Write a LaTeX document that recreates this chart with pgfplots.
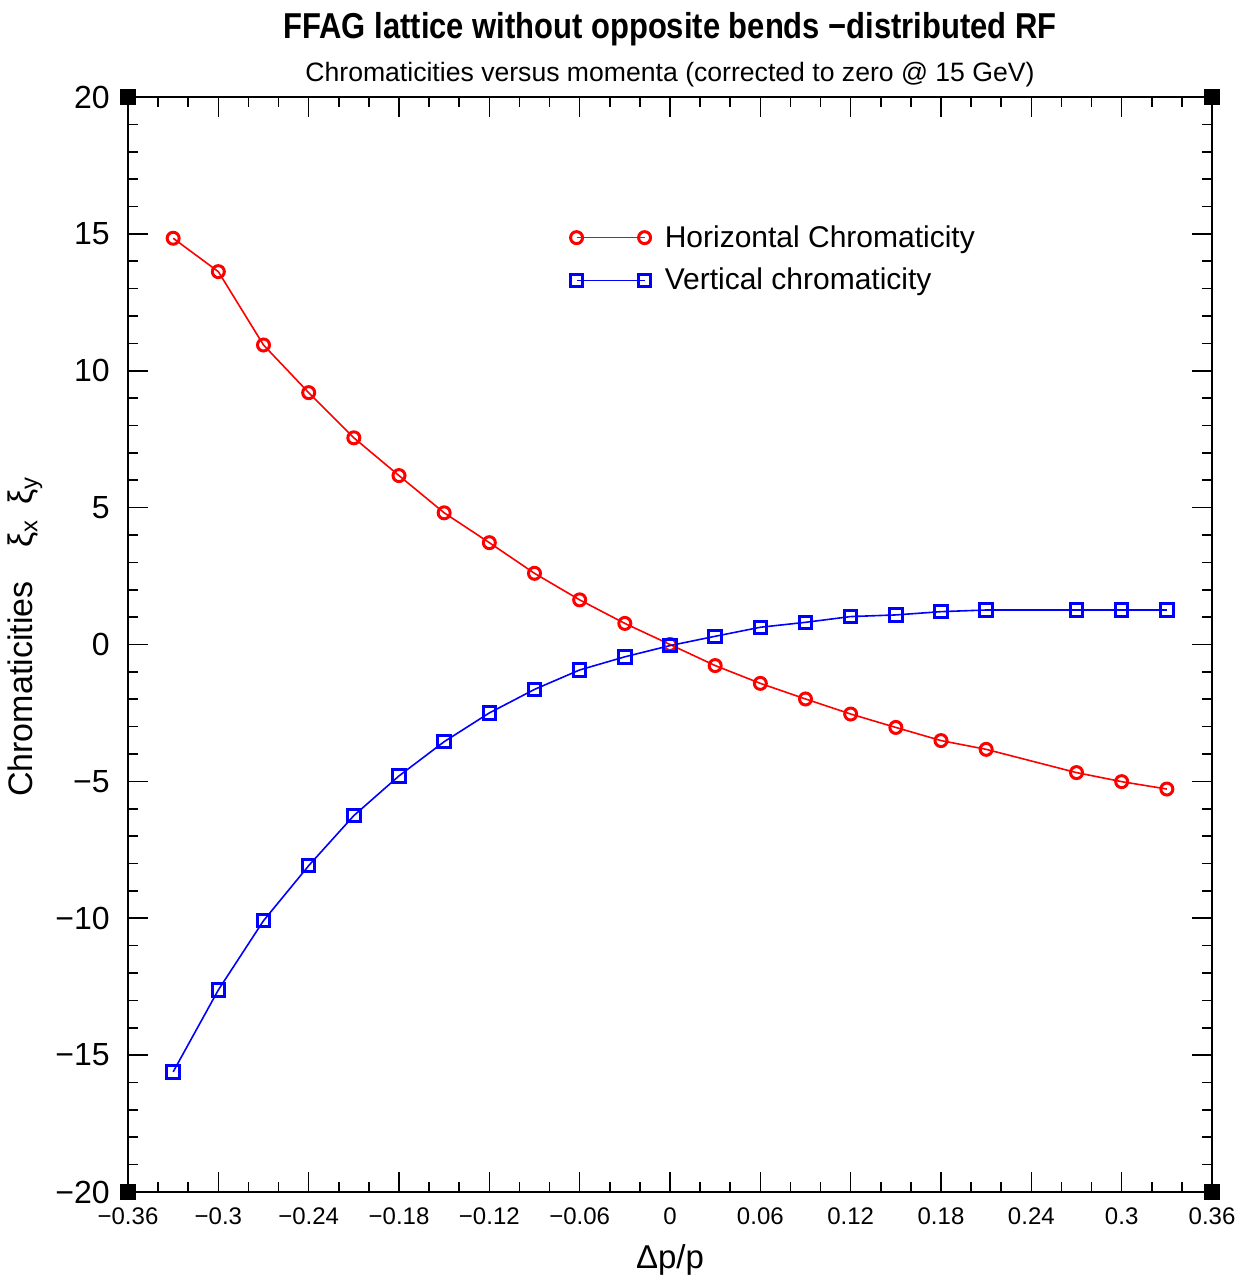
\documentclass[border=0pt]{standalone}
\usepackage{pgfplots}
\pgfplotsset{compat=1.18}
\usepackage{fontspec}
\setmainfont{Liberation Sans}
\usepackage{graphicx}

\pgfplotstableread{
x y
-0.33 14.84
-0.30 13.62
-0.27 10.94
-0.24 9.20
-0.21 7.55
-0.18 6.17
-0.15 4.81
-0.12 3.72
-0.09 2.60
-0.06 1.63
-0.03 0.77
0.00 0.00
0.03 -0.77
0.06 -1.42
0.09 -1.99
0.12 -2.54
0.15 -3.03
0.18 -3.51
0.21 -3.83
0.27 -4.68
0.30 -5.01
0.33 -5.28
}\horiz

\pgfplotstableread{
x y
-0.33 -15.61
-0.30 -12.62
-0.27 -10.09
-0.24 -8.08
-0.21 -6.25
-0.18 -4.80
-0.15 -3.55
-0.12 -2.50
-0.09 -1.64
-0.06 -0.93
-0.03 -0.45
0.00 -0.04
0.03 0.30
0.06 0.63
0.09 0.81
0.12 1.02
0.15 1.08
0.18 1.20
0.21 1.26
0.27 1.26
0.30 1.26
0.33 1.26
}\vert

\begin{document}
\begin{tikzpicture}[x=1bp,y=1bp]
\begin{axis}[
  at={(0,0)}, anchor=south west,
  scale only axis, width=542bp, height=547.5bp,
  xmin=-0.36, xmax=0.36, ymin=-20, ymax=20,
  clip=false,
  axis line style={line width=1bp, black},
  tick align=inside,
  major tick length=10bp, minor tick length=5bp,
  every tick/.style={black, line width=0.8bp},
  xtick={-0.36,-0.3,-0.24,-0.18,-0.12,-0.06,0,0.06,0.12,0.18,0.24,0.3,0.36},
  xticklabels={−0.36,−0.3,−0.24,−0.18,−0.12,−0.06,0,0.06,0.12,0.18,0.24,0.3,0.36},
  minor x tick num=2,
  ytick={-20,-15,-10,-5,0,5,10,15,20},
  yticklabels={−20,−15,−10,−5,0,5,10,15,20},
  minor y tick num=4,
  xticklabel style={font=\fontsize{12bp}{12bp}\selectfont, inner sep=0pt, anchor=north, yshift=-7.5bp},
  yticklabel style={font=\fontsize{16bp}{16bp}\selectfont, inner sep=0pt, anchor=east, xshift=-9bp},
  xlabel={Δp/p},
  xlabel style={at={([yshift=-38bp]axis description cs:0.5,0)}, anchor=base, font=\fontsize{16.5bp}{16.5bp}\selectfont},
  ylabel={Chromaticities\quad ξ\textsubscript{x}\, ξ\textsubscript{y}},
  ylabel style={at={([xshift=-51.5bp, yshift=4bp]axis description cs:0,0.5)}, anchor=center, rotate=0, font=\fontsize{17bp}{17bp}\selectfont},
  legend image code/.code={\draw[#1] plot coordinates {(0bp,0bp) (34bp,0bp)};},
  legend style={at={(axis cs:-0.0704,15.62)}, anchor=north west, draw=none, fill=none,
    font=\fontsize{15bp}{18bp}\selectfont, row sep=5bp, column sep=5bp,
    nodes={inner sep=2bp}},
  legend cell align=left,
]
\addplot[red, line width=0.8bp, mark=o, mark size=3bp, mark options={line width=1.5bp, solid}] table[x=x,y=y] {\horiz};
\addlegendentry{Horizontal Chromaticity}
\addplot[blue, line width=0.8bp, mark=square, mark size=3.1bp, mark options={line width=1.5bp, solid}] table[x=x,y=y] {\vert};
\addlegendentry{Vertical chromaticity}

\fill ([shift={(-4bp,-4bp)}]rel axis cs:0,1) rectangle ++(8bp,8bp);
\fill ([shift={(-4bp,-4bp)}]rel axis cs:1,1) rectangle ++(8bp,8bp);
\fill ([shift={(-4bp,-4bp)}]rel axis cs:0,0) rectangle ++(8bp,8bp);
\fill ([shift={(-4bp,-4bp)}]rel axis cs:1,0) rectangle ++(8bp,8bp);

\node[anchor=base, inner sep=0pt, font=\fontsize{18bp}{18bp}\selectfont\bfseries] at ([yshift=29bp]rel axis cs:0.5,1) {\scalebox{0.86}[1]{FFAG lattice without opposite bends −distributed RF}};
\node[anchor=base, inner sep=0pt, font=\fontsize{13.3bp}{13.3bp}\selectfont] at ([yshift=7.5bp]rel axis cs:0.5,1) {Chromaticities versus momenta (corrected to zero @ 15 GeV)};
\end{axis}
\pgfresetboundingbox
\path[use as bounding box] (-64bp,-44.5bp) rectangle (555.5bp,596bp);
\end{tikzpicture}
\end{document}
